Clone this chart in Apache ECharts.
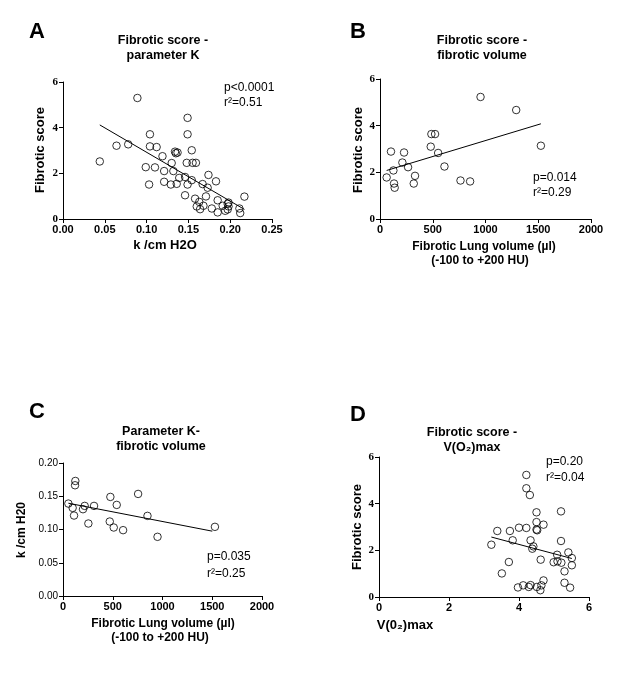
<!DOCTYPE html>
<html>
<head>
<meta charset="utf-8">
<script src="https://cdn.jsdelivr.net/npm/echarts@6/dist/echarts.min.js"></script>
<style>html,body{margin:0;padding:0;background:#fff}#c{width:635px;height:677px}</style>
</head>
<body>
<div id="c"></div>
<script>
// Panel A: Fibrotic score vs parameter K
const aK = [0.089,0.044,0.064,0.078,0.104,0.104,0.112,0.099,0.110,0.119,0.103,0.121,0.121,0.129,0.130,0.132,0.134,0.137,0.136,0.139,0.146,0.149,0.149,0.154,0.148,0.155,0.159,0.146,0.149,0.154,0.158,0.160,0.164,0.163,0.168,0.167,0.171,0.173,0.174,0.183,0.178,0.185,0.185,0.191,0.194,0.197,0.198,0.198,0.197,0.211,0.212,0.217,0.135];
const aScore = [5.30,2.52,3.21,3.27,3.71,3.18,3.15,2.27,2.26,2.75,1.51,2.10,1.63,1.51,2.45,2.10,2.95,2.91,1.54,1.80,1.84,4.43,3.71,3.01,2.46,2.46,2.46,1.04,1.51,1.70,0.89,0.55,0.43,0.75,0.58,1.53,0.99,1.37,1.93,1.65,0.46,0.29,0.82,0.58,0.36,0.66,0.72,0.55,0.42,0.46,0.26,0.98,2.88];
const aFitX = [0.044,0.217];
const aFitY = [4.12,0.42];
// Panel B: Fibrotic score vs fibrotic volume
const bVol = [63,104,127,133,139,228,212,266,332,320,481,487,522,551,611,763,854,953,1291,1525];
const bScore = [1.78,2.89,2.08,1.52,1.34,2.85,2.42,2.22,1.85,1.52,3.10,3.64,3.64,2.83,2.25,1.65,1.61,5.23,4.67,3.14];
const bFitX = [63,1525];
const bFitY = [2.08,4.08];
// Panel C: parameter K vs fibrotic volume
const cVol = [54,97,111,124,121,201,218,255,312,476,470,510,540,604,755,849,950,1527];
const cK = [0.139,0.1325,0.121,0.173,0.1665,0.1305,0.1355,0.109,0.1355,0.149,0.112,0.103,0.137,0.099,0.1535,0.1205,0.089,0.104];
const cFitX = [54,1500];
const cFitY = [0.1395,0.0975];
// Panel D: Fibrotic score vs V(O2)max
const dVO2 = [3.21,3.38,3.51,3.71,3.74,3.82,4.00,3.97,4.12,4.21,4.21,4.21,4.31,4.28,4.33,4.38,4.41,4.33,4.50,4.50,4.50,4.52,4.62,4.61,4.51,4.64,4.70,4.70,4.99,5.09,5.20,5.20,5.21,5.30,5.30,5.41,5.51,5.51,5.46,5.10];
const dScore = [2.24,2.83,1.01,1.50,2.83,2.43,2.97,0.41,0.50,2.96,5.23,4.66,4.37,0.43,2.43,2.07,2.17,0.51,3.63,3.21,2.89,2.86,1.60,0.29,0.43,0.50,3.10,0.71,1.49,1.81,3.67,2.40,1.47,1.10,0.61,1.91,1.67,1.36,0.40,1.53];
const dFitX = [3.21,5.51];
const dFitY = [2.57,1.65];

const SANS = "'Liberation Sans', Arial, sans-serif";
const SERIF = "'Liberation Serif', 'Times New Roman', serif";
const zip = (xs, ys) => xs.map((x, i) => [x, ys[i]]);

const grids = [
  {left: 63, top: 82, width: 209, height: 137},
  {left: 380, top: 79, width: 211, height: 140},
  {left: 63, top: 463, width: 199, height: 133},
  {left: 379, top: 457, width: 210, height: 140}
];

function xAx(i, min, max, interval, dec) {
  return {
    gridIndex: i, type: 'value', min, max, interval,
    axisLine: {lineStyle: {color: '#000', width: 1}},
    axisTick: {show: true, length: 4, lineStyle: {color: '#000'}},
    splitLine: {show: false},
    axisLabel: {color: '#000', fontFamily: SANS, fontWeight: 'bold', fontSize: 11, margin: 5,
      formatter: v => dec ? v.toFixed(dec) : String(v)}
  };
}
function yAx(i, min, max, interval, dec, serif) {
  return {
    gridIndex: i, type: 'value', min, max, interval,
    axisLine: {show: true, lineStyle: {color: '#000', width: 1}},
    axisTick: {show: true, length: 4, lineStyle: {color: '#000'}},
    splitLine: {show: false},
    axisLabel: {color: '#000', fontFamily: serif ? SERIF : SANS, fontWeight: serif ? 'bold' : 'normal',
      fontSize: serif ? 11 : 10, margin: 5,
      formatter: v => dec ? v.toFixed(dec) : String(v)}
  };
}

function scatter(i, xs, ys) {
  return {type: 'scatter', xAxisIndex: i, yAxisIndex: i, data: zip(xs, ys),
    symbol: 'circle', symbolSize: 7.5,
    itemStyle: {color: 'rgba(0,0,0,0)', borderColor: '#000', borderWidth: 1},
    silent: true, z: 3};
}
function fit(i, xs, ys) {
  return {type: 'line', xAxisIndex: i, yAxisIndex: i, data: zip(xs, ys),
    symbol: 'none', lineStyle: {color: '#000', width: 1}, silent: true, z: 2};
}

function txt(x, y, text, size, weight) {
  return {type: 'text', x, y, silent: true,
    style: {text, font: (weight || 'normal') + ' ' + size + 'px ' + SANS, fill: '#000',
      align: 'center', verticalAlign: 'middle'}};
}
function ltxt(x, y, text) {
  return {type: 'text', x, y, silent: true,
    style: {text, font: '12px ' + SANS, fill: '#000', align: 'left', verticalAlign: 'middle'}};
}
function rtxt(x, y, text, size) {
  return {type: 'text', x, y, rotation: Math.PI / 2, silent: true,
    style: {text, font: 'bold ' + size + 'px ' + SANS, fill: '#000', align: 'center', verticalAlign: 'middle'}};
}

const graphics = [
  txt(37, 32, 'A', 22, 'bold'),
  txt(358, 32, 'B', 22, 'bold'),
  txt(37, 412, 'C', 22, 'bold'),
  txt(358, 415, 'D', 22, 'bold'),
  txt(163, 41, 'Fibrotic score -', 12.5, 'bold'),
  txt(163, 56, 'parameter K', 12.5, 'bold'),
  txt(482, 41, 'Fibrotic score -', 12.5, 'bold'),
  txt(482, 56, 'fibrotic volume', 12.5, 'bold'),
  txt(161, 432, 'Parameter K-', 12.5, 'bold'),
  txt(161, 447, 'fibrotic volume', 12.5, 'bold'),
  txt(472, 433, 'Fibrotic score -', 12.5, 'bold'),
  txt(472, 448, 'V(O₂)max', 12.5, 'bold'),
  // axis names
  txt(165, 245, 'k /cm H2O', 13, 'bold'),
  txt(484, 247, 'Fibrotic Lung volume (µl)', 12, 'bold'),
  txt(480, 261, '(-100 to +200 HU)', 12, 'bold'),
  txt(163, 624, 'Fibrotic Lung volume (µl)', 12, 'bold'),
  txt(160, 638, '(-100 to +200 HU)', 12, 'bold'),
  txt(405, 625, 'V(0₂)max', 13, 'bold'),
  rtxt(40, 150, 'Fibrotic score', 13),
  rtxt(358, 150, 'Fibrotic score', 13),
  rtxt(22, 530, 'k /cm H20', 12),
  rtxt(357, 527, 'Fibrotic score', 13),
  // stats
  ltxt(224, 88, 'p<0.0001'),
  ltxt(224, 103, 'r²=0.51'),
  ltxt(533, 178, 'p=0.014'),
  ltxt(533, 193, 'r²=0.29'),
  ltxt(207, 557, 'p=0.035'),
  ltxt(207, 574, 'r²=0.25'),
  ltxt(546, 462, 'p=0.20'),
  ltxt(546, 478, 'r²=0.04')
];

const chart = echarts.init(document.getElementById('c'), null, {renderer: 'canvas'});
chart.setOption({
  backgroundColor: '#fff',
  animation: false,
  grid: grids,
  xAxis: [xAx(0, 0, 0.25, 0.05, 2), xAx(1, 0, 2000, 500, 0), xAx(2, 0, 2000, 500, 0), xAx(3, 0, 6, 2, 0)],
  yAxis: [yAx(0, 0, 6, 2, 0, true), yAx(1, 0, 6, 2, 0, true), yAx(2, 0, 0.20, 0.05, 2, false), yAx(3, 0, 6, 2, 0, true)],
  series: [
    scatter(0, aK, aScore), fit(0, aFitX, aFitY),
    scatter(1, bVol, bScore), fit(1, bFitX, bFitY),
    scatter(2, cVol, cK), fit(2, cFitX, cFitY),
    scatter(3, dVO2, dScore), fit(3, dFitX, dFitY)
  ],
  graphic: graphics
});
</script>
</body>
</html>
